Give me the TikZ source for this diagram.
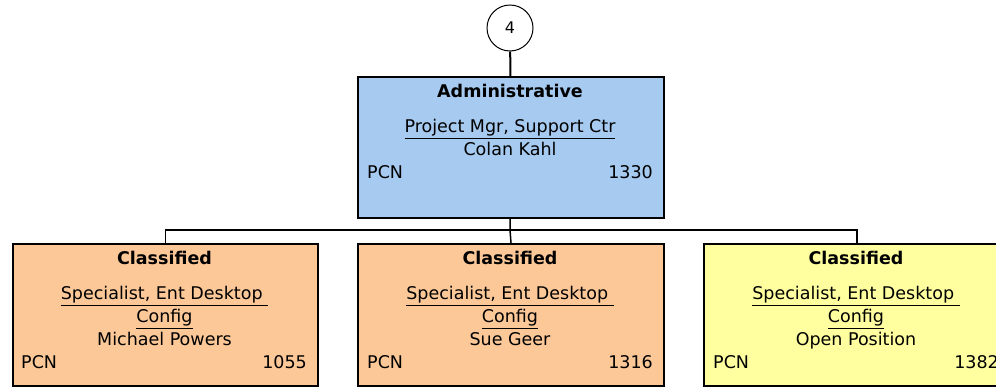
\documentclass[tikz,border=0pt]{standalone}
\usepackage{fontspec}
\setmainfont{DejaVu Sans}
\definecolor{adminblue}{RGB}{166,202,240}
\definecolor{classorange}{RGB}{252,200,152}
\definecolor{openyellow}{RGB}{255,255,160}
\begin{document}
\begin{tikzpicture}[x=1pt,y=-1pt,
  box/.style={draw=black, line width=2pt, minimum width=306pt, minimum height=142pt, anchor=north west, inner sep=0pt},
  txt/.style={font=\fontsize{17.5}{21}\selectfont, anchor=mid, inner sep=0pt},
  ttl/.style={font=\bfseries\fontsize{17.5}{21}\selectfont, anchor=mid, inner sep=0pt},
  lft/.style={font=\fontsize{17.5}{21}\selectfont, anchor=mid west, inner sep=0pt},
  rgt/.style={font=\fontsize{17.5}{21}\selectfont, anchor=mid east, inner sep=0pt},
  conn/.style={line width=1.5pt}]
\useasboundingbox (0,0) rectangle (996,386);
\clip (0,0) rectangle (996,386);
% top circle
\node[draw=black, circle, minimum size=46pt, line width=1pt, inner sep=0pt, font=\fontsize{16}{18}\selectfont, fill=white] (num) at (510,28) {4};
% administrative box
\node[box, fill=adminblue, minimum height=141pt] (admin) at (357,76) {};
\node[ttl] (admT) at (510,95) {Administrative};
\node[txt] (admJ) at (510,130) {\underline{Project Mgr, Support Ctr}};
\node[txt] (admN) at (510,153) {Colan Kahl};
\node[lft] (admP) at (367,176) {PCN};
\node[rgt] (admC) at (653,176) {1330};
% children
\node[box, fill=classorange, minimum width=305pt] (c1) at (12,243) {};
\node[box, fill=classorange] (c2) at (357,243) {};
\node[box, fill=openyellow] (c3) at (703,243) {};
% child 1 text
\node[ttl] (c1T) at (164.5,262) {Classified};
\node[txt] (c1J) at (164.5,297) {\underline{Specialist, Ent Desktop\ }};
\node[txt] (c1K) at (164.5,320) {\underline{Config}};
\node[txt] (c1N) at (164.5,343) {Michael Powers};
\node[lft] (c1P) at (21,366) {PCN};
\node[rgt] (c1C) at (307,366) {1055};
% child 2 text
\node[ttl] (c2T) at (510,262) {Classified};
\node[txt] (c2J) at (510,297) {\underline{Specialist, Ent Desktop\ }};
\node[txt] (c2K) at (510,320) {\underline{Config}};
\node[txt] (c2N) at (510,343) {Sue Geer};
\node[lft] (c2P) at (367,366) {PCN};
\node[rgt] (c2C) at (653,366) {1316};
% child 3 text
\node[ttl] (c3T) at (856,262) {Classified};
\node[txt] (c3J) at (856,297) {\underline{Specialist, Ent Desktop\ }};
\node[txt] (c3K) at (856,320) {\underline{Config}};
\node[txt] (c3N) at (856,343) {Open Position};
\node[lft] (c3P) at (713,366) {PCN};
\node[rgt] (c3C) at (999,366) {1382};
% connectors
\coordinate (bus) at (510,230);
\draw[line width=2pt] (num) -- (admin);
\draw[conn] (admin) -- (bus);
\draw[conn] (c1.north) |- (bus) -| (c3.north);
\draw[conn] (bus) -- (c2.north);
\end{tikzpicture}
\end{document}
